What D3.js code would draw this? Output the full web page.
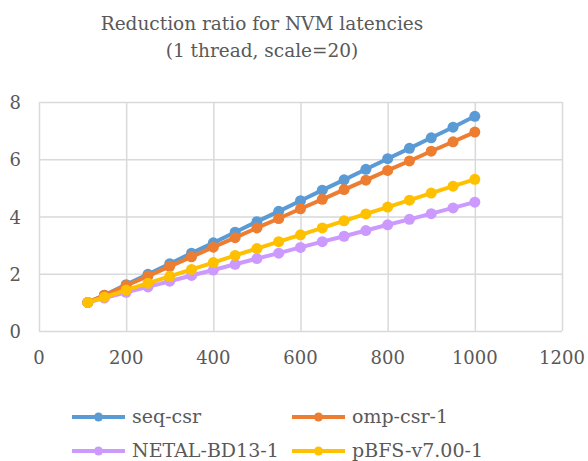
<!DOCTYPE html>
<html>
<head>
<meta charset="utf-8">
<script src="https://cdn.jsdelivr.net/npm/d3@7"></script>
<style>
  body { margin: 0; background: #fff; }
  svg text { font-family: "DejaVu Serif", "Liberation Serif", serif; fill: #595959; }
</style>
</head>
<body>
<div id="chart"></div>
<script>
// data
var latencies = [112, 150, 200, 250, 300, 350, 400, 450, 500, 550, 600, 650, 700, 750, 800, 850, 900, 950, 1000];
var seqCsr = [1.0, 1.25, 1.62, 1.98, 2.35, 2.72, 3.08, 3.45, 3.82, 4.18, 4.55, 4.92, 5.28, 5.65, 6.02, 6.38, 6.75, 7.12, 7.5];
var ompCsr = [1.0, 1.25, 1.59, 1.92, 2.26, 2.59, 2.93, 3.26, 3.6, 3.93, 4.27, 4.6, 4.94, 5.27, 5.61, 5.94, 6.28, 6.61, 6.95];
var netal = [1.0, 1.15, 1.35, 1.54, 1.74, 1.94, 2.13, 2.33, 2.53, 2.72, 2.92, 3.12, 3.31, 3.51, 3.71, 3.9, 4.1, 4.3, 4.5];
var pbfs = [1.0, 1.18, 1.43, 1.67, 1.91, 2.15, 2.39, 2.64, 2.88, 3.12, 3.36, 3.6, 3.85, 4.09, 4.33, 4.57, 4.82, 5.06, 5.3];
var seriesNames = ["seq-csr", "omp-csr-1", "NETAL-BD13-1", "pBFS-v7.00-1"];
var xTicks = [0, 200, 400, 600, 800, 1000, 1200];
var yTicks = [0, 2, 4, 6, 8];
var titleLines = ["Reduction ratio for NVM latencies", "(1 thread, scale=20)"];

var colors = ["#5B9BD5", "#ED7D31", "#CC99FF", "#FFC000"];
var series = [seqCsr, ompCsr, netal, pbfs];

var width = 588, height = 461;
var svg = d3.select("#chart").append("svg")
	.attr("width", width)
	.attr("height", height);

var x = d3.scaleLinear().domain([0, 1200]).range([39, 562]);
var y = d3.scaleLinear().domain([0, 8]).range([331, 102]);

// title
svg.selectAll(".title")
	.data(titleLines)
	.enter().append("text")
	.attr("class", "title")
	.attr("x", 262)
	.attr("y", function(d, i) { return 30 + i * 27; })
	.attr("text-anchor", "middle")
	.style("font-size", "18.5px")
	.text(function(d) { return d; });

// gridlines
svg.append("g")
	.attr("transform", "translate(0," + y(0) + ")")
	.call(d3.axisBottom(x).tickValues(xTicks).tickSize(-(y(0) - y(8))).tickFormat(""))
	.call(function(g) {
		g.select(".domain").remove();
		g.selectAll("line").attr("stroke", "#D9D9D9").attr("stroke-width", 1.5);
	});

svg.append("g")
	.attr("transform", "translate(" + x(0) + ",0)")
	.call(d3.axisLeft(y).tickValues(yTicks).tickSize(-(x(1200) - x(0))).tickFormat(""))
	.call(function(g) {
		g.select(".domain").remove();
		g.selectAll("line").attr("stroke", "#D9D9D9").attr("stroke-width", 1.5);
	});

// tick labels
svg.selectAll(".xlab")
	.data(xTicks)
	.enter().append("text")
	.attr("class", "xlab")
	.attr("x", function(d) { return x(d); })
	.attr("y", 364)
	.attr("text-anchor", "middle")
	.style("font-size", "18px")
	.text(function(d) { return d; });

svg.selectAll(".ylab")
	.data(yTicks)
	.enter().append("text")
	.attr("class", "ylab")
	.attr("x", 21)
	.attr("y", function(d) { return y(d) + 7; })
	.attr("text-anchor", "end")
	.style("font-size", "18px")
	.text(function(d) { return d; });

// lines and markers
var line = d3.line()
	.x(function(d, i) { return x(latencies[i]); })
	.y(function(d) { return y(d); });

series.forEach(function(s, k) {
	svg.append("path")
		.datum(s)
		.attr("fill", "none")
		.attr("stroke", colors[k])
		.attr("stroke-width", 4)
		.attr("stroke-linejoin", "round")
		.attr("d", line);
	svg.selectAll(".dot" + k)
		.data(s)
		.enter().append("circle")
		.attr("cx", function(d, i) { return x(latencies[i]); })
		.attr("cy", function(d) { return y(d); })
		.attr("r", 5.5)
		.attr("fill", colors[k]);
});

// legend
var legendPos = [[72, 417], [292, 417], [72, 451], [292, 451]];
var legend = svg.selectAll(".legend")
	.data(seriesNames)
	.enter().append("g")
	.attr("class", "legend")
	.attr("transform", function(d, i) { return "translate(" + legendPos[i][0] + "," + legendPos[i][1] + ")"; });

legend.append("line")
	.attr("x1", 0).attr("x2", 53)
	.attr("y1", 0).attr("y2", 0)
	.attr("stroke", function(d, i) { return colors[i]; })
	.attr("stroke-width", 4);

legend.append("circle")
	.attr("cx", 26.5).attr("cy", 0).attr("r", 4.5)
	.attr("fill", function(d, i) { return colors[i]; });

legend.append("text")
	.attr("x", 60)
	.attr("y", 6)
	.style("font-size", "19px")
	.text(function(d) { return d; });
</script>
</body>
</html>
